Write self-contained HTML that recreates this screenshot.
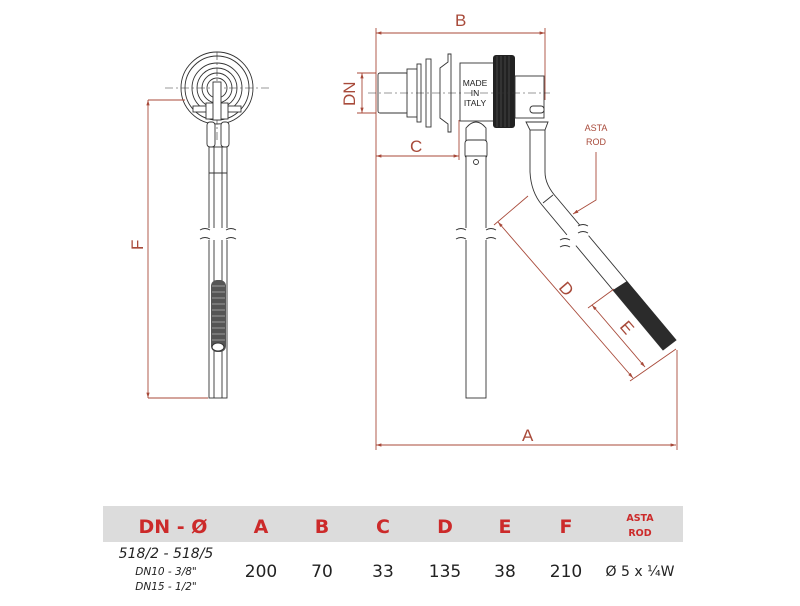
<!DOCTYPE html>
<html><head><meta charset="utf-8"><style>
body{margin:0;background:#fff;width:800px;height:606px;overflow:hidden}
svg{display:block}
.r{stroke:#a84a3a;stroke-width:0.9;fill:none}
.k{stroke:#333;stroke-width:0.9;fill:#fff}
.kn{stroke:#333;stroke-width:0.9;fill:none}
.c{stroke:#333;stroke-width:0.6;fill:none;stroke-dasharray:8 3 2 3}
.lt{font-family:"Liberation Sans",sans-serif;fill:#a84a3a}
.th{font-family:"DejaVu Sans","Liberation Sans",sans-serif;font-weight:bold;fill:#cc2a2a;text-anchor:middle}
.td{font-family:"DejaVu Sans","Liberation Sans",sans-serif;fill:#222;text-anchor:middle}
</style></head><body>
<svg width="800" height="606" viewBox="0 0 800 606">
<defs><marker id="a" viewBox="0 0 10 10" refX="10" refY="5" markerWidth="6" markerHeight="6" orient="auto-start-reverse"><path d="M0,2L10,5L0,8z" fill="#a84a3a"/></marker></defs>

<!-- LEFT VIEW -->
<line class="c" x1="165" y1="88" x2="270" y2="88"/>
<line class="c" x1="217" y1="52" x2="217" y2="140"/>
<circle class="kn" cx="217" cy="88" r="36"/>
<circle class="kn" cx="217" cy="88" r="32"/>
<circle class="kn" cx="217" cy="88" r="25"/>
<circle class="kn" cx="217" cy="88" r="20"/>
<circle class="kn" cx="217" cy="88" r="15"/>
<circle class="kn" cx="217" cy="88" r="10"/>
<rect class="k" x="193" y="106" width="48" height="6"/>
<rect class="k" x="206" y="103" width="22" height="16"/>
<rect class="k" x="213" y="82" width="8" height="38"/>
<rect class="k" x="207" y="122" width="8" height="25" rx="3"/>
<rect class="k" x="221" y="122" width="8" height="25" rx="3"/>
<rect class="k" x="209" y="147" width="18" height="251"/>
<line class="kn" x1="214" y1="147" x2="214" y2="398"/>
<line class="kn" x1="222" y1="147" x2="222" y2="398"/>
<line class="kn" x1="209" y1="173" x2="227" y2="173"/>
<rect x="200" y="228" width="36" height="12" fill="#fff"/>
<path class="kn" d="M200,230q5,-3 10,0M226,230q5,-3 10,0M200,239q5,-3 10,0M226,239q5,-3 10,0"/>
<rect x="211" y="280" width="15" height="72" rx="6" fill="#555"/>
<g stroke="#ccc" stroke-width="0.6">
<line x1="212" y1="286" x2="225" y2="286"/><line x1="212" y1="292" x2="225" y2="292"/><line x1="212" y1="298" x2="225" y2="298"/><line x1="212" y1="304" x2="225" y2="304"/><line x1="212" y1="310" x2="225" y2="310"/><line x1="212" y1="316" x2="225" y2="316"/><line x1="212" y1="322" x2="225" y2="322"/><line x1="212" y1="328" x2="225" y2="328"/><line x1="212" y1="334" x2="225" y2="334"/><line x1="212" y1="340" x2="225" y2="340"/></g>
<ellipse cx="218" cy="347" rx="6" ry="4" fill="#fff" stroke="#333"/>
<!-- F -->
<line class="r" x1="148" y1="100" x2="148" y2="398" marker-start="url(#a)" marker-end="url(#a)"/>
<line class="r" x1="148" y1="100" x2="185" y2="100"/>
<line class="r" x1="148" y1="398" x2="208" y2="398"/>
<text class="lt" x="0" y="0" font-size="17" transform="translate(143,250) rotate(-90)">F</text>

<!-- RIGHT VIEW -->
<line class="r" x1="376" y1="33" x2="545" y2="33" marker-start="url(#a)" marker-end="url(#a)"/>
<line class="r" x1="376" y1="28" x2="376" y2="160"/>
<line class="r" x1="545" y1="28" x2="545" y2="100"/>
<text class="lt" x="455" y="26" font-size="17">B</text>
<line class="r" x1="362" y1="73" x2="362" y2="113" marker-start="url(#a)" marker-end="url(#a)"/>
<line class="r" x1="357" y1="73" x2="376" y2="73"/>
<line class="r" x1="357" y1="113" x2="376" y2="113"/>
<text class="lt" font-size="17" transform="translate(355,106) rotate(-90)">DN</text>
<line class="r" x1="376" y1="156" x2="459" y2="156" marker-start="url(#a)" marker-end="url(#a)"/>
<line class="r" x1="459" y1="120" x2="459" y2="160"/>
<text class="lt" x="410" y="152" font-size="17">C</text>
<line class="r" x1="376" y1="445" x2="676" y2="445" marker-start="url(#a)" marker-end="url(#a)"/>
<line class="r" x1="376" y1="160" x2="376" y2="450"/>
<line class="r" x1="677" y1="350" x2="677" y2="450"/>
<text class="lt" x="522" y="441" font-size="17">A</text>

<!-- fitting -->
<rect class="k" x="378" y="73" width="30" height="40" rx="2"/>
<rect class="k" x="407" y="69" width="12" height="48"/>
<rect class="k" x="417" y="64" width="4" height="58"/>
<rect class="k" x="426" y="59" width="5" height="68"/>
<path class="k" d="M440,68L448,62V54H451V132H448V124L440,118Z"/>
<rect class="k" x="460" y="63" width="42" height="58"/>
<rect x="493" y="55" width="22" height="73" rx="3" fill="#222"/>
<g stroke="#666" stroke-width="0.5"><line x1="497" y1="56" x2="497" y2="127"/><line x1="501" y1="56" x2="501" y2="127"/><line x1="505" y1="56" x2="505" y2="127"/><line x1="509" y1="56" x2="509" y2="127"/></g>
<rect class="k" x="515" y="76" width="29" height="42"/>
<rect class="k" x="530" y="106" width="14" height="7" rx="3"/>
<line class="c" x1="368" y1="93" x2="550" y2="93"/>
<text x="475" y="86" font-family="Liberation Sans,sans-serif" font-size="8.5" fill="#222" text-anchor="middle">MADE</text>
<text x="475" y="96" font-family="Liberation Sans,sans-serif" font-size="8.5" fill="#222" text-anchor="middle">IN</text>
<text x="475" y="106" font-family="Liberation Sans,sans-serif" font-size="8.5" fill="#222" text-anchor="middle">ITALY</text>
<!-- vertical pipe -->
<path class="k" d="M466,150V128Q476,116 486,128V150Z"/>
<rect class="k" x="465" y="140" width="22" height="18" rx="3"/>
<rect class="k" x="466" y="156" width="20" height="242"/>
<circle class="kn" cx="476" cy="162" r="2.5"/>
<rect x="456" y="228" width="40" height="12" fill="#fff"/>
<path class="kn" d="M456,230q5,-3 10,0M486,230q5,-3 10,0M456,239q5,-3 10,0M486,239q5,-3 10,0"/>
<!-- diagonal rod -->
<path class="k" d="M526,122L548,122L545,130V172Q545,185 557,198L676,340L663,350L542,205Q531,192 530,172V130Z"/>
<line class="kn" x1="545" y1="130" x2="530" y2="130"/>
<line class="kn" x1="543" y1="203" x2="553" y2="195"/>
<path d="M613,290L627,281L676,340L663,350Z" fill="#2b2b2b"/>
<rect x="558" y="232" width="30" height="14" fill="#fff" transform="rotate(-38 573 239)"/>
<path class="kn" d="M560,240q5,-3 10,0M578,226q5,-3 10,0M560,247q5,-3 10,0M578,233q5,-3 10,0"/>
<!-- D & E -->
<line class="r" x1="498" y1="222" x2="633" y2="378" marker-start="url(#a)" marker-end="url(#a)"/>
<line class="r" x1="528" y1="196" x2="494" y2="225"/>
<line class="r" x1="676" y1="349" x2="630" y2="381"/>
<line class="r" x1="592" y1="305" x2="645" y2="367" marker-start="url(#a)" marker-end="url(#a)"/>
<line class="r" x1="614" y1="289" x2="588" y2="308"/>
<text class="lt" font-size="17" transform="translate(558,288) rotate(49)">D</text>
<text class="lt" font-size="17" transform="translate(619,327) rotate(49)">E</text>
<!-- ASTA ROD -->
<text class="lt" x="596" y="131" font-size="9" text-anchor="middle">ASTA</text>
<text class="lt" x="596" y="145" font-size="9" text-anchor="middle">ROD</text>
<polyline class="r" points="596,152 596,200 573,214" marker-end="url(#a)"/>

<!-- TABLE -->
<rect x="103" y="506" width="580" height="36" fill="#dcdcdc"/>
<text class="th" x="173" y="533" font-size="19">DN - Ø</text>
<text class="th" x="261" y="533" font-size="19">A</text>
<text class="th" x="322" y="533" font-size="19">B</text>
<text class="th" x="383" y="533" font-size="19">C</text>
<text class="th" x="445" y="533" font-size="19">D</text>
<text class="th" x="505" y="533" font-size="19">E</text>
<text class="th" x="566" y="533" font-size="19">F</text>
<text class="th" x="640" y="521" font-size="9.5">ASTA</text>
<text class="th" x="640" y="536" font-size="9.5">ROD</text>
<text class="td" x="166" y="558" font-size="14" font-style="italic">518/2 - 518/5</text>
<text class="td" x="166" y="575" font-size="10.5" font-style="italic">DN10 - 3/8"</text>
<text class="td" x="166" y="590" font-size="10.5" font-style="italic">DN15 - 1/2"</text>
<text class="td" x="261" y="577" font-size="17">200</text>
<text class="td" x="322" y="577" font-size="17">70</text>
<text class="td" x="383" y="577" font-size="17">33</text>
<text class="td" x="445" y="577" font-size="17">135</text>
<text class="td" x="505" y="577" font-size="17">38</text>
<text class="td" x="566" y="577" font-size="17">210</text>
<text class="td" x="640" y="576" font-size="14">Ø 5 x ¼W</text>
</svg>
</body></html>
